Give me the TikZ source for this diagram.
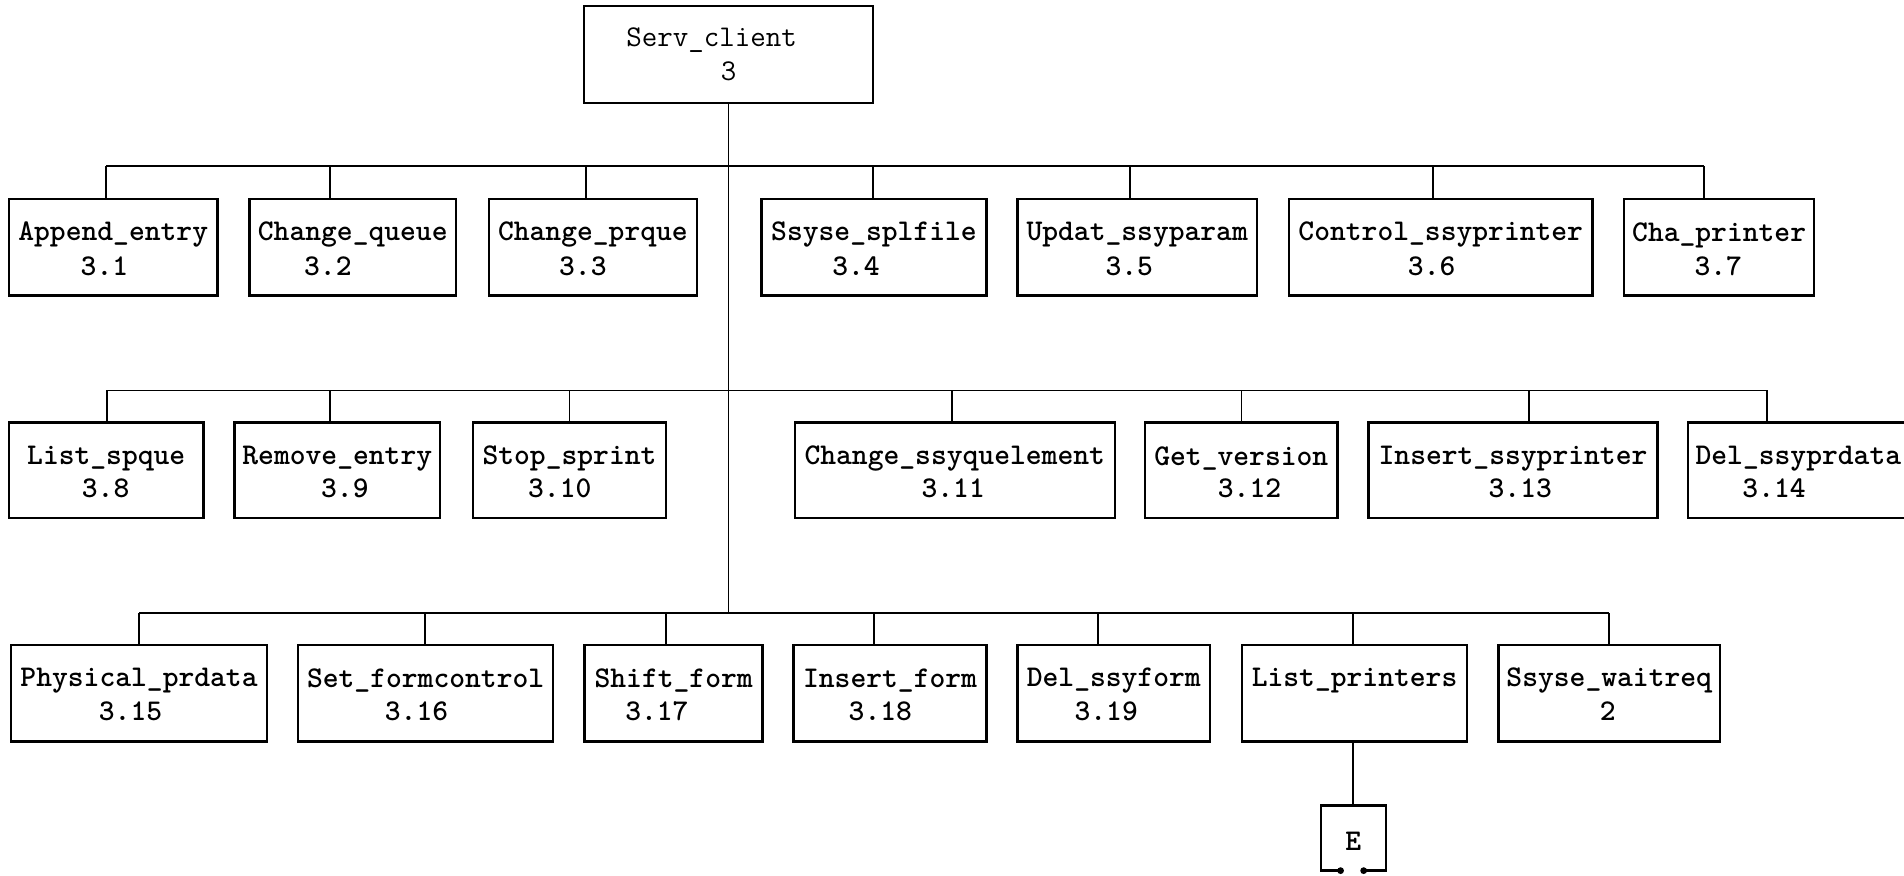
\documentclass[tikz,border=0pt]{standalone}
\usepackage{fontspec}
\tikzset{
  proc/.style={draw, line width=1pt, inner sep=0pt},
  lbl/.style={font=\ttfamily\bfseries\fontsize{12.4}{14}\selectfont, inner sep=0pt},
  wire/.style={line width=0.7pt}
}

\begin{document}
\begin{tikzpicture}[x=0.5pt, y=-0.5pt]
      \useasboundingbox (0,0) rectangle (1568,720.6);
      \clip (0,0) rectangle (1568,720.6);

      % root
      \node [proc, minimum width=119pt, minimum height=40pt] (root) at (600,45) {};
      \node [lbl, font=\ttfamily\fontsize{12.4}{14}\selectfont] (root-t) at (586,33) {Serv\_client};
      \node [lbl, font=\ttfamily\fontsize{12.4}{14}\selectfont] (root-n) at (600,59) {3};

      % first row
      \foreach \id/\l/\r/\d/\nx/\name/\num in {
          a31/7.5/179/87.5/86/Append\_entry/3.1,
          a32/205.5/375.5/271.5/270/Change\_queue/3.2,
          a33/402.5/574/482.5/480/Change\_prque/3.3,
          a34/627/812.5/719/705/Ssyse\_splfile/3.4,
          a35/838/1035/930.5/930/Updat\_ssyparam/3.5,
          a36/1061.5/1311.5/1180/1179/Control\_ssyprinter/3.6,
          a37/1337.5/1494/1403/1415/Cha\_printer/3.7} {
        \node [proc, minimum width={(\r-\l)*0.5pt}, minimum height=39.75pt] (\id) at ({(\l+\r)/2},203.75) {};
        \node [lbl] (\id-t) at ({(\l+\r)/2},193.5) {\name};
        \node [lbl] (\id-n) at (\nx,219.6) {\num};
        \coordinate (\id-j) at (\d,137);
        \draw [wire] (\id-j) -- (\id-j |- \id.north);
      }

      % second row
      \foreach \id/\l/\r/\d/\nx/\name/\num in {
          a38/7.5/167.5/88/87/List\_spque/3.8,
          a39/193/362.5/271.5/284/Remove\_entry/3.9,
          a310/389.5/548.5/469/461/Stop\_sprint/3.10,
          a311/654.5/918/784/785/Change\_ssyquelement/3.11,
          a312/943/1101.5/1022.5/1029/Get\_version/3.12,
          a313/1127/1365/1259/1252/Insert\_ssyprinter/3.13,
          a314/1390/1572/1455/1461/Del\_ssyprdata/3.14} {
        \node [proc, minimum width={(\r-\l)*0.5pt}, minimum height=39.4pt] (\id) at ({(\l+\r)/2},387.4) {};
        \node [lbl] (\id-t) at ({(\l+\r)/2},377.4) {\name};
        \node [lbl] (\id-n) at (\nx,402) {\num};
        \coordinate (\id-j) at (\d,321.5);
        \draw [wire] (\id-j) -- (\id-j |- \id.north);
      }

      % third row
      \foreach \id/\l/\r/\d/\nx/\name/\num in {
          a315/9/220/114.5/107.5/Physical\_prdata/3.15,
          a316/245.5/455.5/350/343/Set\_formcontrol/3.16,
          a317/481.5/628/548.5/541/Shift\_form/3.17,
          a318/653.5/812.5/720/725/Insert\_form/3.18,
          a319/838/996.5/904.5/911/Del\_ssyform/3.19,
          lp/1023/1208/1114.5/1114.5/List\_printers/{},
          sw/1234/1416.5/1325/1324/Ssyse\_waitreq/2} {
        \node [proc, minimum width={(\r-\l)*0.5pt}, minimum height=39.85pt] (\id) at ({(\l+\r)/2},570.85) {};
        \node [lbl] (\id-t) at ({(\l+\r)/2},560.8) {\name};
        \node [lbl] (\id-n) at (\nx,585.5) {\num};
        \coordinate (\id-j) at (\d,505);
        \draw [wire] (\id-j) -- (\id-j |- \id.north);
      }

      % buses and trunk
      \draw [wire] (root.south) -- (root.south |- a315-j);
      \draw [wire] (a31-j) -- (a37-j);
      \draw [wire] (a38-j) -- (a314-j);
      \draw [wire] (a315-j) -- (sw-j);

      % off-page connector
      \node [lbl] (e) at (1114.5,692.5) {E};
      \coordinate (e-top) at (1114.5,663.5);
      \draw [line width=1pt] (1104,717) -- (1088,717) -- (1088,663.5) -- (1141.5,663.5) -- (1141.5,717) -- (1123,717);
      \fill (1104,717) circle (1.4pt);
      \fill (1123,717) circle (1.4pt);
      \draw [wire] (lp-j |- lp.south) -- (e-top);
\end{tikzpicture}
\end{document}
